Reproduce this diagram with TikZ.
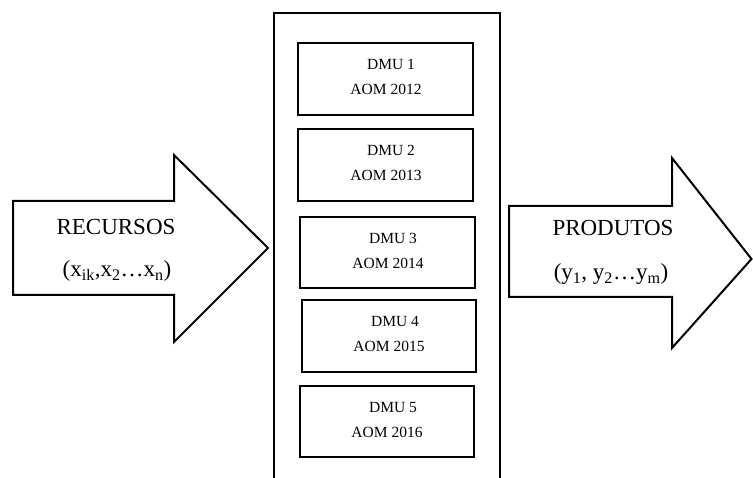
\documentclass[tikz,border=0pt]{standalone}
\usepackage{fontspec}
\setmainfont{Liberation Serif}
\begin{document}
\begin{tikzpicture}[x=1pt,y=-1pt,
  frame/.style={line width=2pt,line join=miter},
  dmubox/.style={draw,line width=2.2pt,inner sep=0pt},
  big/.style={anchor=base,inner sep=0pt,font=\fontsize{23}{26}\selectfont},
  mid/.style={anchor=base,inner sep=0pt,font=\fontsize{23}{26}\selectfont},
  small/.style={anchor=base,inner sep=0pt,font=\fontsize{15.5}{18}\selectfont}]
\useasboundingbox (0,0) rectangle (753,478);
% outer container (open at bottom)
\draw[frame] (274,478) -- (274,13) -- (500,13) -- (500,478);
% arrows
\draw[frame] (13,201) -- (174,201) -- (174,155) -- (268,248) -- (174,342) -- (174,295) -- (13,295) -- cycle;
\draw[frame] (509,206) -- (672,206) -- (672,158) -- (751.5,259) -- (672,348) -- (672,297) -- (509,297) -- cycle;
% DMU boxes
\draw[dmubox] (298,43) rectangle (473,115);
\draw[dmubox] (298,129) rectangle (473,201);
\draw[dmubox] (300,217) rectangle (475,288);
\draw[dmubox] (302,300) rectangle (476,372);
\draw[dmubox] (300,386) rectangle (474,457);
% texts
\node[small] (d1) at (391,70) {DMU 1};
\node[small] (a1) at (386,95) {AOM 2012};
\node[small] (d2) at (391,156) {DMU 2};
\node[small] (a2) at (386,181) {AOM 2013};
\node[small] (d3) at (393,244) {DMU 3};
\node[small] (a3) at (388,269) {AOM 2014};
\node[small] (d4) at (395,327) {DMU 4};
\node[small] (a4) at (389,352) {AOM 2015};
\node[small] (d5) at (393,413) {DMU 5};
\node[small] (a5) at (387,438) {AOM 2016};
\node[big] (rec) at (116,235) {RECURSOS};
\node[mid] (recx) at (117,277) {(x\textsubscript{ik},x\textsubscript{2}…x\textsubscript{n})};
\node[big] (prod) at (613,236) {PRODUTOS};
\node[mid] (prody) at (611,280) {(y\textsubscript{1}, y\textsubscript{2}…y\textsubscript{m})};
\end{tikzpicture}
\end{document}
